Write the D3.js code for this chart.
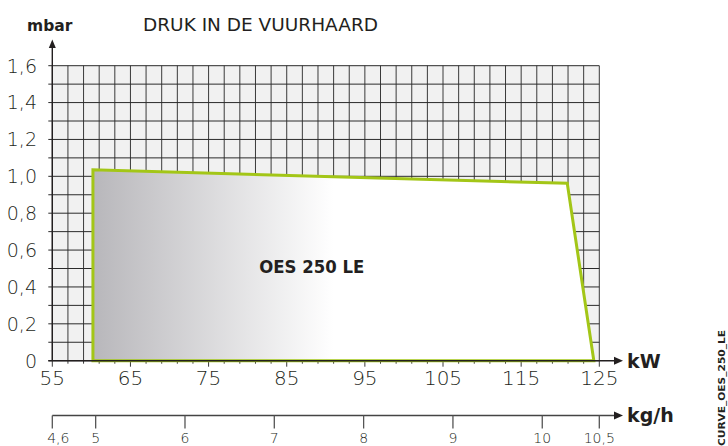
<!DOCTYPE html>
<html>
<head>
<meta charset="utf-8">
<script src="https://cdn.jsdelivr.net/npm/d3@7"></script>
<style>
  html, body { margin: 0; padding: 0; background: #ffffff; }
  svg { display: block; }
  text { font-family: "DejaVu Sans", sans-serif; fill: #231f20; }
</style>
</head>
<body>
<svg id="chart" width="728" height="446"></svg>
<script>
// ---- data ----
const kwTicks = [55, 65, 75, 85, 95, 105, 115, 125];
const mbarTicks = [0, 0.2, 0.4, 0.6, 0.8, 1.0, 1.2, 1.4, 1.6];
const mbarTickLabels = ["0", "0,2", "0,4", "0,6", "0,8", "1,0", "1,2", "1,4", "1,6"];
const kghTicks = [4.6, 5, 6, 7, 8, 9, 10, 10.5];
const kghTickLabels = ["4,6", "5", "6", "7", "8", "9", "10", "10,5"];
// kg/h anchor values and their kW positions on the shared horizontal axis
const kghAnchors = [4.6, 5, 10, 10.5];
const kghAnchorKw = [55, 60.55, 117.7, 125];
// working field polygon
const fieldKw = [60.2, 60.2, 120.9, 124.3];
const fieldMbar = [0, 1.035, 0.962, 0];
const fieldName = "OES 250 LE";
const title = "DRUK IN DE VUURHAARD";
const code = "CURVE_OES_250_LE";

// ---- layout ----
const svg = d3.select("#chart");
const x = d3.scaleLinear().domain([55, 125]).range([52.3, 599.3]);
const y = d3.scaleLinear().domain([0, 1.6]).range([360.7, 65.7]);
const xk = d3.scaleLinear().domain(kghAnchors).range(kghAnchorKw.map(x));
const kghY = 415.5;
const ink = "#231f20";
const green = "#a3c617";

// defs
const defs = svg.append("defs");
const grad = defs.append("linearGradient").attr("id", "fieldGrad")
  .attr("gradientUnits", "userSpaceOnUse")
  .attr("x1", x(60.2)).attr("x2", x(91)).attr("y1", 0).attr("y2", 0);
grad.append("stop").attr("offset", 0).attr("stop-color", "#b8b7bb");
grad.append("stop").attr("offset", 1).attr("stop-color", "#ffffff");

// plot background
svg.append("rect")
  .attr("x", x(55)).attr("y", y(1.6))
  .attr("width", x(125) - x(55)).attr("height", y(0) - y(1.6))
  .attr("fill", "#f1f1f1");

// grid
const vGrid = d3.range(55, 125.001, 2);
const hGrid = d3.range(0, 16.001, 1).map(d => d / 10);
svg.append("g").selectAll("line").data(vGrid).join("line")
  .attr("x1", d => x(d)).attr("x2", d => x(d))
  .attr("y1", y(1.6)).attr("y2", d => y(0) + ((d - 55) % 10 === 0 ? 6 : 3))
  .attr("stroke", "#3a3a3a").attr("stroke-width", 1);
svg.append("g").selectAll("line").data(hGrid).join("line")
  .attr("x1", x(55) - 4).attr("x2", x(125))
  .attr("y1", d => y(d)).attr("y2", d => y(d))
  .attr("stroke", "#2b2b2b").attr("stroke-width", 1);

// field polygon
const pts = fieldKw.map((k, i) => [k, fieldMbar[i]]);
svg.append("path")
  .attr("d", d3.line().x(d => x(d[0])).y(d => y(d[1]))(pts) + "Z")
  .attr("fill", "url(#fieldGrad)")
  .attr("stroke", green).attr("stroke-width", 3)
  .attr("stroke-linejoin", "miter");

svg.append("text")
  .attr("x", x(88.2)).attr("y", y(0.478))
  .attr("text-anchor", "middle")
  .attr("font-size", 17).attr("font-weight", 700)
  .attr("textLength", 105).attr("lengthAdjust", "spacingAndGlyphs")
  .text(fieldName);

// axes lines + arrows
svg.append("line")
  .attr("x1", x(55)).attr("x2", x(55)).attr("y1", y(0)).attr("y2", 47)
  .attr("stroke", ink).attr("stroke-width", 1.4);
svg.append("path")
  .attr("d", `M${x(55) - 3.5},48 L${x(55)},39.5 L${x(55) + 3.5},48 Z`)
  .attr("fill", ink);

svg.append("line")
  .attr("x1", x(55) - 4).attr("x2", 615).attr("y1", y(0)).attr("y2", y(0))
  .attr("stroke", ink).attr("stroke-width", 1.4);
svg.append("path")
  .attr("d", `M614,${y(0) - 4} L623,${y(0)} L614,${y(0) + 4} Z`)
  .attr("fill", ink);

svg.append("line")
  .attr("x1", xk(4.6)).attr("x2", 615).attr("y1", kghY).attr("y2", kghY)
  .attr("stroke", "#444").attr("stroke-width", 1.3);
svg.append("path")
  .attr("d", `M614,${kghY - 4} L623,${kghY} L614,${kghY + 4} Z`)
  .attr("fill", ink);

// y tick labels
svg.append("g").selectAll("text").data(mbarTicks).join("text")
  .attr("x", 37).attr("y", d => y(d))
  .attr("dy", "0.36em")
  .attr("text-anchor", "end")
  .attr("font-size", 19).attr("font-weight", 200)
  .attr("fill", "#2a2a2a")
  .text((d, i) => mbarTickLabels[i]);

// x tick labels
svg.append("g").selectAll("text").data(kwTicks).join("text")
  .attr("x", d => x(d)).attr("y", 385)
  .attr("text-anchor", "middle")
  .attr("font-size", 20).attr("font-weight", 200)
  .attr("fill", "#2a2a2a")
  .text(d => d);

// kg/h ticks + labels
svg.append("g").selectAll("line").data(kghTicks).join("line")
  .attr("x1", d => xk(d)).attr("x2", d => xk(d))
  .attr("y1", kghY).attr("y2", kghY + 13)
  .attr("stroke", "#555").attr("stroke-width", 1.3);
svg.append("g").selectAll("text").data(kghTicks).join("text")
  .attr("x", d => xk(d) + (d === 4.6 ? 6 : 0)).attr("y", 443)
  .attr("text-anchor", "middle")
  .attr("font-size", 14).attr("font-weight", 200)
  .attr("fill", "#444")
  .text((d, i) => kghTickLabels[i]);

// axis titles
svg.append("text").attr("x", 27).attr("y", 31)
  .attr("font-size", 15.5).attr("font-weight", 700).text("mbar");
svg.append("text").attr("x", 143).attr("y", 31)
  .attr("font-size", 18).attr("font-weight", 400)
  .attr("textLength", 235).attr("lengthAdjust", "spacingAndGlyphs")
  .text(title);
svg.append("text").attr("x", 627).attr("y", 368)
  .attr("font-size", 19).attr("font-weight", 700).text("kW");
svg.append("text").attr("x", 627).attr("y", 422)
  .attr("font-size", 19).attr("font-weight", 700).text("kg/h");

// side code
svg.append("text")
  .attr("transform", "translate(725,446) rotate(-90)")
  .attr("font-family", "'Liberation Sans', Arial, sans-serif")
  .attr("font-size", 9.5).attr("font-weight", 700)
  .attr("textLength", 116).attr("lengthAdjust", "spacingAndGlyphs")
  .text(code);
</script>
</body>
</html>
